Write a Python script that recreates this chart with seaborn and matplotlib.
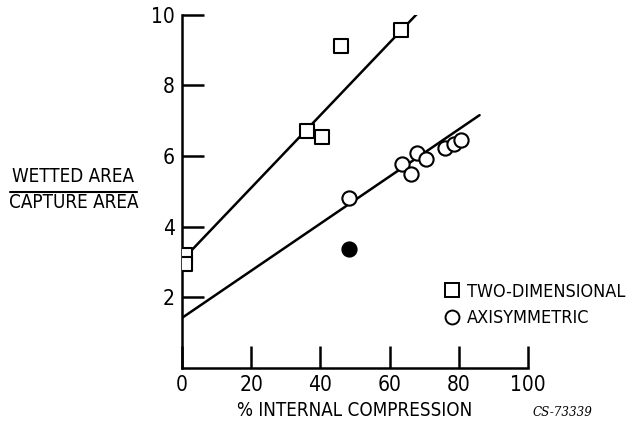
import matplotlib
matplotlib.use("Agg")
import matplotlib.pyplot as plt
import seaborn as sns
import pandas as pd

# Wetted area ratio vs. percent internal compression
two_dim_x = [1, 1, 36, 40.5, 46, 63.3]
two_dim_y = [3.2, 2.95, 6.7, 6.55, 9.12, 9.57]

axisym_x = [48.3, 63.6, 66.2, 67.9, 70.5, 76, 78.6, 80.6]
axisym_y = [4.8, 5.77, 5.5, 6.1, 5.92, 6.22, 6.33, 6.45]

solid_x = [48.3]
solid_y = [3.38]

# Faired lines through each family
two_dim_line_x = [0, 69.6]
two_dim_line_y = [3.05, 10.2]
axisym_line_x = [0, 86]
axisym_line_y = [1.42, 7.16]

x_ticks = [0, 20, 40, 60, 80, 100]
y_ticks = [2, 4, 6, 8, 10]

sns.set_style("ticks")
plt.rcParams["font.family"] = ["DejaVu Sans"]
plt.rcParams["font.stretch"] = "condensed"
plt.rcParams["text.color"] = "black"
plt.rcParams["axes.labelcolor"] = "black"

fig = plt.figure(figsize=(6.38, 4.24), dpi=100)
ax = fig.add_axes([0.2853, 0.132, 0.5423, 0.833])

df_line2 = pd.DataFrame({"x": two_dim_line_x, "y": two_dim_line_y})
df_lineA = pd.DataFrame({"x": axisym_line_x, "y": axisym_line_y})
sns.lineplot(data=df_line2, x="x", y="y", ax=ax, color="black", lw=1.8, zorder=2)
sns.lineplot(data=df_lineA, x="x", y="y", ax=ax, color="black", lw=1.8, zorder=2)

df2 = pd.DataFrame({"x": two_dim_x, "y": two_dim_y})
dfa = pd.DataFrame({"x": axisym_x, "y": axisym_y})
dfs = pd.DataFrame({"x": solid_x, "y": solid_y})
sns.scatterplot(data=df2, x="x", y="y", ax=ax, marker="s", s=115,
                facecolor="white", edgecolor="black", linewidth=1.5, zorder=3)
sns.scatterplot(data=dfa, x="x", y="y", ax=ax, marker="o", s=105,
                facecolor="white", edgecolor="black", linewidth=1.5, zorder=3)
sns.scatterplot(data=dfs, x="x", y="y", ax=ax, marker="o", s=110,
                facecolor="black", edgecolor="black", linewidth=1.2, zorder=3)

ax.set_xlim(0, 100)
ax.set_ylim(0, 10)
ax.set_xticks(x_ticks)
ax.set_yticks(y_ticks)
ax.set_xticklabels([str(t) for t in x_ticks])
ax.set_yticklabels([str(t) for t in y_ticks])
ax.tick_params(direction="in", length=16, width=1.8, labelsize=15, pad=5,
               colors="black", labelcolor="black")
ax.tick_params(axis="x", pad=5)
for s in ["left", "bottom"]:
    ax.spines[s].set_linewidth(1.8)
    ax.spines[s].set_color("black")
for s in ["top", "right"]:
    ax.spines[s].set_visible(False)
ax.set_xlabel("% INTERNAL COMPRESSION", fontsize=13.5, labelpad=4, color="black")
ax.set_ylabel("")

# Fraction-style y label
fig.text(0.115, 0.584, "WETTED AREA", ha="center", va="center", fontsize=13.5)
fig.text(0.115, 0.523, "CAPTURE AREA", ha="center", va="center", fontsize=13.5)
fig.add_artist(plt.Line2D([0.016, 0.215], [0.547, 0.547], color="black", lw=1.5,
                          transform=fig.transFigure))

# Legend
h_sq = plt.Line2D([], [], marker="s", ls="none", ms=10.5, mfc="white", mec="black", mew=1.4)
h_ci = plt.Line2D([], [], marker="o", ls="none", ms=10, mfc="white", mec="black", mew=1.4)
leg = ax.legend([h_sq, h_ci], ["TWO-DIMENSIONAL", "AXISYMMETRIC"], frameon=False,
                loc="upper left", bbox_to_anchor=(0.728, 0.267), fontsize=13,
                handletextpad=0.35, labelspacing=0.45, handlelength=1.0, borderpad=0)
for t in leg.get_texts():
    t.set_color("black")

fig.text(0.835, 0.028, "CS-73339", family="DejaVu Serif", style="italic",
         fontsize=9.5, ha="left", va="center")

fig.savefig("out.png", dpi=100)
